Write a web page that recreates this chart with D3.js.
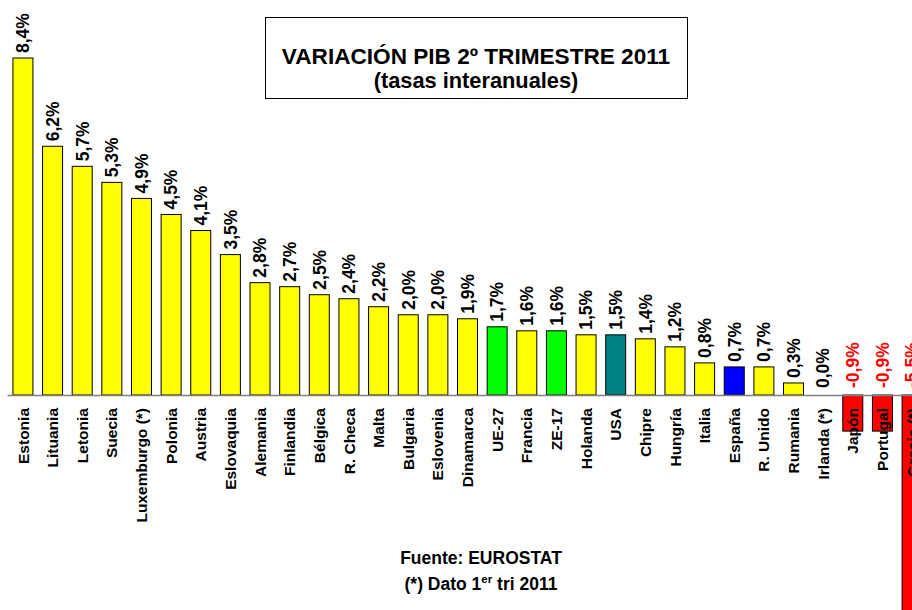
<!DOCTYPE html>
<html>
<head>
<meta charset="utf-8">
<script src="https://cdn.jsdelivr.net/npm/d3@7/dist/d3.min.js"></script>
<style>
  body { margin: 0; background: #fff; }
  svg text { font-family: "Liberation Sans", Arial, sans-serif; font-weight: bold; }
</style>
</head>
<body>
<svg id="chart" width="912" height="610"></svg>
<script>
// Data: GDP variation 2nd quarter 2011 (year-on-year rates)
const countries = ["Estonia", "Lituania", "Letonia", "Suecia", "Luxemburgo (*)", "Polonia", "Austria",
  "Eslovaquia", "Alemania", "Finlandia", "Bélgica", "R. Checa", "Malta", "Bulgaria", "Eslovenia",
  "Dinamarca", "UE-27", "Francia", "ZE-17", "Holanda", "USA", "Chipre", "Hungría", "Italia", "España",
  "R. Unido", "Rumania", "Irlanda (*)", "Japón", "Portugal", "Grecia (*)"];
const values = [8.4, 6.2, 5.7, 5.3, 4.9, 4.5, 4.1, 3.5, 2.8, 2.7, 2.5, 2.4, 2.2, 2.0, 2.0,
  1.9, 1.7, 1.6, 1.6, 1.5, 1.5, 1.4, 1.2, 0.8, 0.7, 0.7, 0.3, 0.0, -0.9, -0.9, -5.5];
const aggregates = ["UE-27", "ZE-17"];
const titleLines = ["VARIACIÓN PIB 2º TRIMESTRE 2011", "(tasas interanuales)"];

const data = countries.map((c, i) => ({ name: c, value: values[i] }));

const svg = d3.select("#chart");

// Scales
const x = d3.scaleBand()
  .domain(countries)
  .range([7, 928])
  .paddingInner(0.325)
  .paddingOuter(0.2);

const y = d3.scaleLinear()
  .domain([0, 8.4])
  .range([395, 58]);

// Bar colour
function barColor(d) {
  if (d.value < 0) return "#ff0000";
  if (aggregates.includes(d.name)) return "#00ff00";
  if (d.name === "USA") return "#008080";
  if (d.name === "España") return "#0000ff";
  return "#ffff00";
}

const fmt = v => v.toFixed(1).replace(".", ",") + "%";

// Bars
svg.selectAll("rect.bar")
  .data(data.filter(d => d.value !== 0))
  .enter()
  .append("rect")
  .attr("class", "bar")
  .attr("x", d => x(d.name))
  .attr("width", x.bandwidth())
  .attr("y", d => y(Math.max(0, d.value)))
  .attr("height", d => Math.abs(y(d.value) - y(0)))
  .attr("fill", barColor)
  .attr("stroke", "#000")
  .attr("stroke-width", 1);

// Zero line
const axis = svg.append("g")
  .attr("transform", `translate(0,${y(0)})`)
  .call(d3.axisBottom(x).tickSize(0).tickSizeOuter(0).tickFormat(""));
axis.select(".domain").attr("stroke", "#808080").attr("stroke-width", 1.5);

// Value labels
svg.selectAll("text.value")
  .data(data)
  .enter()
  .append("text")
  .attr("class", "value")
  .attr("transform", d => {
    const cx = x(d.name) + x.bandwidth() / 2;
    const cy = d.value > 0 ? y(d.value) - 5 : y(0) - 7;
    return `translate(${cx},${cy}) rotate(-90)`;
  })
  .attr("dy", "0.36em")
  .attr("text-anchor", "start")
  .attr("font-size", "17.5px")
  .attr("fill", d => d.value < 0 ? "#ff0000" : "#000")
  .text(d => fmt(d.value));

// Category labels
svg.selectAll("text.cat")
  .data(data)
  .enter()
  .append("text")
  .attr("class", "cat")
  .attr("transform", d => `translate(${x(d.name) + x.bandwidth() / 2},408) rotate(-90)`)
  .attr("dy", "0.36em")
  .attr("text-anchor", "end")
  .attr("font-size", "15.5px")
  .attr("fill", "#000")
  .text(d => d.name);

// Title box
svg.append("rect")
  .attr("x", 265.5).attr("y", 17.5)
  .attr("width", 422).attr("height", 81)
  .attr("fill", "#fff")
  .attr("stroke", "#000")
  .attr("stroke-width", 1);

svg.selectAll("text.title")
  .data(titleLines)
  .enter()
  .append("text")
  .attr("class", "title")
  .attr("x", 476)
  .attr("y", (d, i) => 64 + i * 24)
  .attr("text-anchor", "middle")
  .attr("font-size", (d, i) => i === 0 ? "22.6px" : "21.8px")
  .text(d => d);

// Footer
svg.append("text")
  .attr("x", 481).attr("y", 564)
  .attr("text-anchor", "middle")
  .attr("font-size", "17.5px")
  .text("Fuente: EUROSTAT");

const note = svg.append("text")
  .attr("x", 481).attr("y", 590)
  .attr("text-anchor", "middle")
  .attr("font-size", "17.5px");
note.append("tspan").text("(*) Dato 1");
note.append("tspan").attr("dy", "-7").attr("font-size", "11.5px").text("er");
note.append("tspan").attr("dy", "7").text(" tri 2011");
</script>
</body>
</html>
